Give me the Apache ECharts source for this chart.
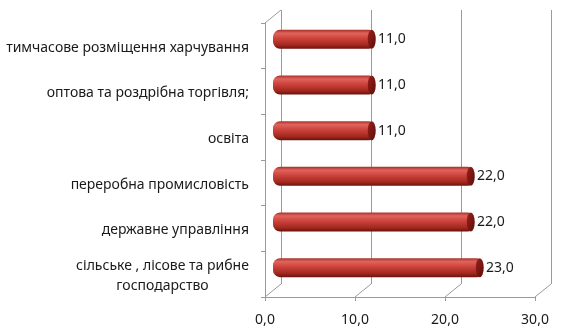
<!DOCTYPE html>
<html><head><meta charset="utf-8">
<script src="https://cdn.jsdelivr.net/npm/echarts@6/dist/echarts.min.js"></script>
<style>html,body{margin:0;padding:0;background:#fff}#c{width:584px;height:336px}</style>
</head><body><div id="c"></div>
<script>
const categories = ['тимчасове розміщення харчування','оптова та роздрібна торгівля;','освіта','переробна промисловість','державне управління','сільське , лісове та рибне\nгосподарство'];
const values = [11, 11, 11, 22, 22, 23];
const xTicks = [0, 10, 20, 30];

// layout (3D box: front plane, middle plane for bars, back plane)
const W = 270, H = 274;
const front = {left: 265, top: 23};
const back = {left: 281, top: 10};
const mid = {left: 273, top: 16.5};
const FONT = 'Noto Sans';
const CAT_SIZE = 14;
const fmt = v => v.toFixed(1).replace('.', ',');

const ctx = document.createElement('canvas').getContext('2d');
ctx.font = CAT_SIZE + 'px "' + FONT + '"';
const measure = s => Math.ceil(ctx.measureText(s).width);

const chart = echarts.init(document.getElementById('c'), null, {renderer: 'canvas'});
function grid(p){ return {left: p.left, top: p.top, width: W, height: H, containLabel: false}; }
const xBase = {type: 'value', min: 0, max: 30, interval: 10};
const richStyles = {};
const catFormatter = v => {
  const parts = v.split('\n');
  if (parts.length === 1) return v;
  const w = Math.max.apply(null, parts.map(measure));
  return parts.map((p, i) => {
    const key = 'l' + i;
    richStyles[key] = {width: w, align: 'center', fontFamily: FONT, fontSize: CAT_SIZE, color: '#1a1a1a', lineHeight: 20};
    return '{' + key + '|' + p + '}';
  }).join('\n');
};
categories.forEach(catFormatter);

chart.setOption({
  animation: false,
  grid: [grid(back), grid(front), grid(mid)],
  xAxis: [
    Object.assign({gridIndex: 0, axisLine: {show: false}, axisTick: {show: false}, axisLabel: {show: false},
      splitLine: {show: true, lineStyle: {color: '#9a9a9a', width: 1}}}, xBase),
    Object.assign({gridIndex: 1, position: 'bottom', splitLine: {show: false},
      axisLine: {show: true, lineStyle: {color: '#9a9a9a'}},
      axisTick: {show: true, length: 4, lineStyle: {color: '#9a9a9a'}},
      axisLabel: {show: true, margin: 16, color: '#1a1a1a', fontFamily: FONT, fontSize: 14, formatter: v => fmt(v)}}, xBase),
    Object.assign({gridIndex: 2, show: false}, xBase)
  ],
  yAxis: [
    {type: 'category', gridIndex: 0, data: categories, inverse: true, show: false},
    {type: 'category', gridIndex: 1, data: categories, inverse: true,
      axisLine: {show: true, lineStyle: {color: '#9a9a9a'}},
      axisTick: {show: true, length: 4, lineStyle: {color: '#9a9a9a'}},
      axisLabel: {show: true, margin: 16, color: '#1a1a1a', fontFamily: FONT, fontSize: CAT_SIZE, lineHeight: 20,
        padding: [4, 0, 0, 0], formatter: catFormatter, rich: richStyles}},
    {type: 'category', gridIndex: 2, data: categories, inverse: true, show: false}
  ],
  series: [
    {type: 'bar', xAxisIndex: 2, yAxisIndex: 2, data: values, barWidth: 19, z: 3,
      itemStyle: {
        borderRadius: [7, 3, 3, 7],
        color: {type: 'linear', x: 0, y: 0, x2: 0, y2: 1, colorStops: [
          {offset: 0, color: '#a8302a'}, {offset: 0.18, color: '#e0645c'}, {offset: 0.45, color: '#cc433c'},
          {offset: 0.8, color: '#a3281f'}, {offset: 1, color: '#6a120d'}]}
      },
      label: {show: true, position: 'right', distance: 6, color: '#1a1a1a', fontFamily: FONT, fontSize: 14,
        formatter: p => fmt(p.value)}},
    {type: 'pictorialBar', xAxisIndex: 2, yAxisIndex: 2, data: values, symbol: 'circle', symbolSize: [8, 19],
      symbolPosition: 'end', symbolOffset: ['50%', 0], z: 4,
      itemStyle: {color: {type: 'linear', x: 0, y: 0, x2: 1, y2: 1, colorStops: [
          {offset: 0, color: '#9a201a'}, {offset: 1, color: '#5e0e0a'}]},
        borderColor: '#c24a43', borderWidth: 0.8}}
  ]
});

// 3D frame diagonals (floor and left wall)
const g = [];
const lineStyle = {stroke: '#9a9a9a', lineWidth: 1};
xTicks.forEach(v => {
  const fx = chart.convertToPixel({xAxisIndex: 1}, v);
  const bx = chart.convertToPixel({xAxisIndex: 0}, v);
  g.push({type: 'line', shape: {x1: fx, y1: front.top + H, x2: bx, y2: back.top + H}, style: lineStyle, silent: true});
});
g.push({type: 'line', shape: {x1: front.left, y1: front.top, x2: back.left, y2: back.top}, style: lineStyle, silent: true});
chart.setOption({graphic: g});
</script></body></html>
